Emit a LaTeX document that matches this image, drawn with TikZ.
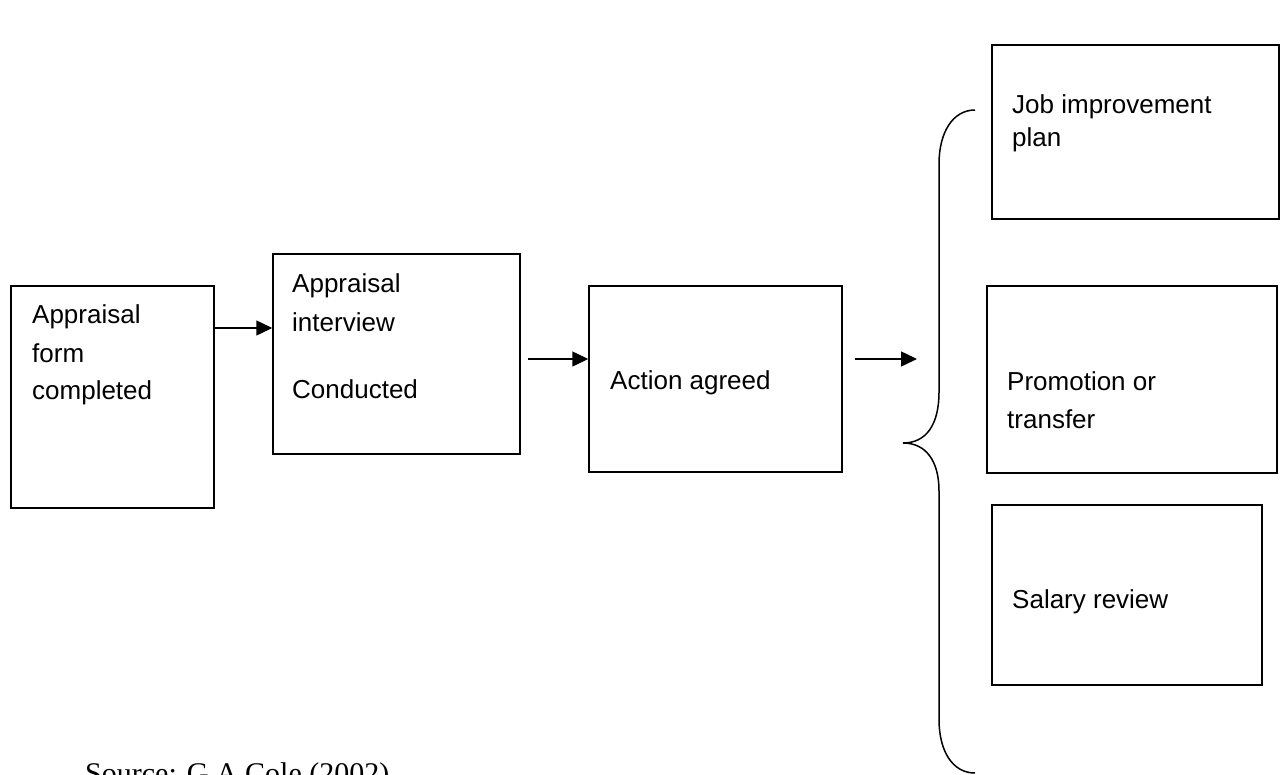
\documentclass[tikz,border=0pt]{standalone}
\usepackage{fontspec}
\setmainfont{Liberation Sans}
\newfontfamily\srcfont{Liberation Serif}
\usetikzlibrary{arrows.meta}
\begin{document}
\begin{tikzpicture}[x=1pt,y=-1pt,
  boxstyle/.style={draw=black,line width=1.5pt,rectangle,inner sep=0pt},
  txt/.style={anchor=base west,inner sep=0pt,font=\fontsize{26}{31}\selectfont},
  arr/.style={line width=1.5pt,-{Triangle[length=16pt,width=15pt]}},
  bracestyle/.style={line width=1.5pt}]
\useasboundingbox (0,0) rectangle (1287,774);
\clip (0,0) rectangle (1287,774);
% boxes
\node[boxstyle,minimum width=203pt,minimum height=222pt] (b1) at (112.5,397) {};
\node[boxstyle,minimum width=247pt,minimum height=200pt] (b2) at (396.5,354) {};
\node[boxstyle,minimum width=253pt,minimum height=186pt] (b3) at (715.5,379) {};
\node[boxstyle,minimum width=287pt,minimum height=174pt] (b4) at (1135.5,132) {};
\node[boxstyle,minimum width=290pt,minimum height=187pt] (b5) at (1132,379.5) {};
\node[boxstyle,minimum width=270pt,minimum height=180pt] (b6) at (1127,595) {};
% texts
\node[txt] (t11) at (32,323) {Appraisal};
\node[txt] (t12) at (32,362) {form};
\node[txt] (t13) at (32,399) {completed};
\node[txt] (t21) at (292,292) {Appraisal};
\node[txt] (t22) at (292,331) {interview};
\node[txt] (t23) at (292,398) {Conducted};
\node[txt] (t31) at (610,389) {Action agreed};
\node[txt] (t41) at (1012,113) {Job improvement};
\node[txt] (t42) at (1012,146) {plan};
\node[txt] (t51) at (1007,390) {Promotion or};
\node[txt] (t52) at (1007,428) {transfer};
\node[txt] (t61) at (1012,608) {Salary review};
\node[anchor=base west,inner sep=0pt,font=\srcfont\fontsize{30}{36}\selectfont] (src) at (85,783) {Source: G.A Cole (2002)};
% brace
\coordinate (bt) at (975,110);
\coordinate (tip) at (903,443);
\coordinate (bb) at (975,773);
\coordinate (a3end) at (917,359);
\draw[bracestyle] (bt) .. controls (953,110) and (939,132) .. (939,164) -- (939,392)
  .. controls (939,425) and (926,443) .. (tip)
  .. controls (926,443) and (939,461) .. (939,491) -- (939,719)
  .. controls (939,752) and (953,773) .. (bb);
% arrows
\draw[arr] (b1.east |- 0,328) -- (b2.west |- 0,328);
\draw[arr] ([xshift=7pt]b2.east |- 0,359) -- (b3.west |- 0,359);
\draw[arr] ([xshift=12pt]b3.east |- a3end) -- (a3end);
\end{tikzpicture}
\end{document}
